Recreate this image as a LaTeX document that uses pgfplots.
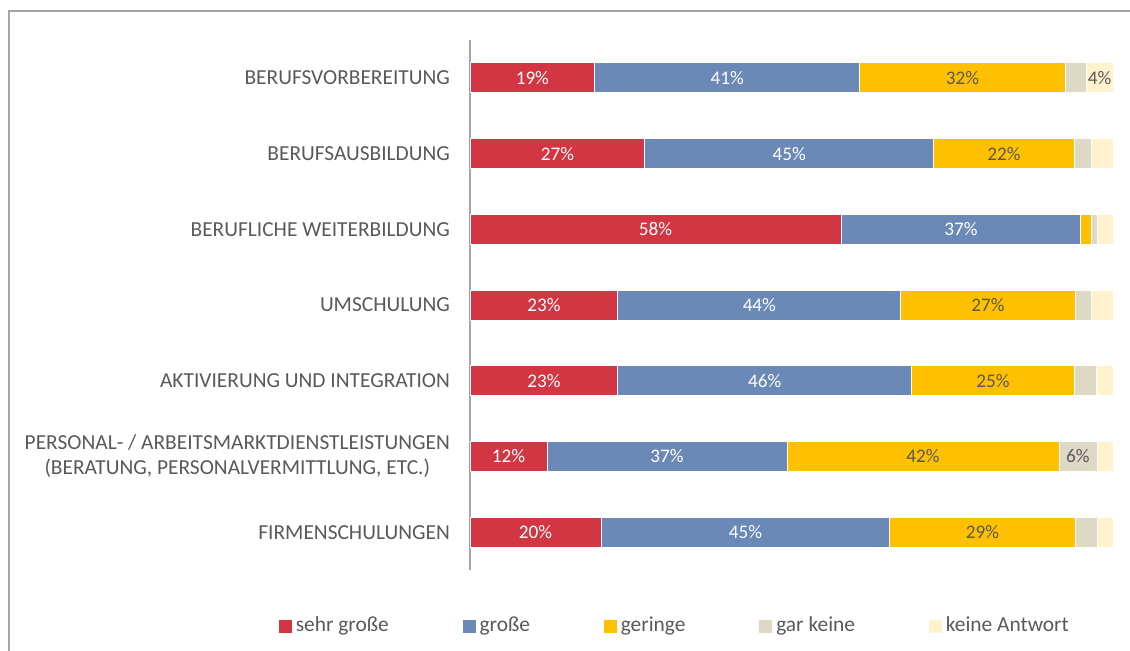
\documentclass[border=0pt]{standalone}
\usepackage{fontspec}
\setmainfont{Carlito}
\usepackage{pgfplots}
\usepackage{pgfplotstable}
\pgfplotsset{compat=1.18}

\definecolor{sgross}{HTML}{D13642}
\definecolor{gross}{HTML}{6A89B7}
\definecolor{gering}{HTML}{FFC000}
\definecolor{garkeine}{HTML}{DDD9C4}
\definecolor{keineantw}{HTML}{FFF2CC}
\definecolor{txt}{HTML}{595959}
\definecolor{rahmen}{HTML}{A6A6A6}

% Anteile in %, Zeile 0 = oben
\pgfplotstableread{
row sg   g    ge   gk   ka
0   19.4 41.2 32.0 3.2  4.2
1   27.2 44.9 21.9 2.6  3.4
2   57.7 37.3 1.7  0.8  2.5
3   23.0 44.0 27.1 2.6  3.3
4   23.0 45.7 25.3 3.4  2.6
5   12.0 37.3 42.3 5.9  2.5
6   20.4 44.9 28.8 3.4  2.5
}\anteile

\pgfplotsset{
  seg/.style 2 args={fill=#1, draw=white, line width=0.4pt,
    every node near coord/.append style={text=#2},
    legend image code/.code={\fill[#1] (0pt,-3pt) rectangle (6pt,3pt);}},
}

\begin{document}
\begin{tikzpicture}
\useasboundingbox (-235pt,-40pt) rectangle (330pt,285pt);
\draw[rahmen, line width=0.75pt] (-230.5pt,-45pt) -- (-230.5pt,279.5pt) -- (335pt,279.5pt);
\begin{axis}[
  at={(0pt,0pt)}, anchor=south west,
  scale only axis, width=321.5pt, height=265pt,
  xbar stacked, bar width=15pt,
  xmin=0, xmax=100, ymin=-0.5, ymax=6.5, y dir=reverse,
  axis x line=none, axis y line*=left,
  y axis line style={rahmen, -, line width=0.75pt},
  ytick={0,...,6}, ytick style={draw=none},
  yticklabels={BERUFSVORBEREITUNG, BERUFSAUSBILDUNG, BERUFLICHE WEITERBILDUNG,
    UMSCHULUNG, AKTIVIERUNG UND INTEGRATION,
    {PERSONAL- / ARBEITSMARKTDIENSTLEISTUNGEN\\(BERATUNG, PERSONALVERMITTLUNG, ETC.)},
    FIRMENSCHULUNGEN},
  yticklabel style={font=\fontsize{10.7}{12.6}\selectfont, text=txt, align=center, xshift=-6.5pt},
  point meta=explicit,
  /pgf/number format/assume math mode=true,
  nodes near coords={\pgfmathfloattofixed{\pgfplotspointmeta}\ifdim\pgfmathresult pt<3.95pt\else\pgfmathprintnumber[fixed,precision=0]{\pgfplotspointmeta}\%\fi},
  every node near coord/.append style={anchor=center,
    font=\fontsize{9.6}{11}\selectfont},
  legend columns=5,
  legend style={draw=none, fill=none, inner sep=0pt, outer sep=0pt,
    at={(-0.297,-0.1057)}, anchor=west,
    font=\fontsize{10.7}{12}\selectfont, text=txt,
    /tikz/every even column/.append style={column sep=35pt}},
]
\addplot[seg={sgross}{white}]     table[x=sg, y=row, meta=sg] {\anteile};
\addplot[seg={gross}{white}]      table[x=g,  y=row, meta=g]  {\anteile};
\addplot[seg={gering}{txt}]       table[x=ge, y=row, meta=ge] {\anteile};
\addplot[seg={garkeine}{txt}]     table[x=gk, y=row, meta=gk] {\anteile};
\addplot[seg={keineantw}{txt}]    table[x=ka, y=row, meta=ka] {\anteile};
\legend{sehr große, große, geringe, gar keine, keine Antwort}
\end{axis}
\end{tikzpicture}
\end{document}
